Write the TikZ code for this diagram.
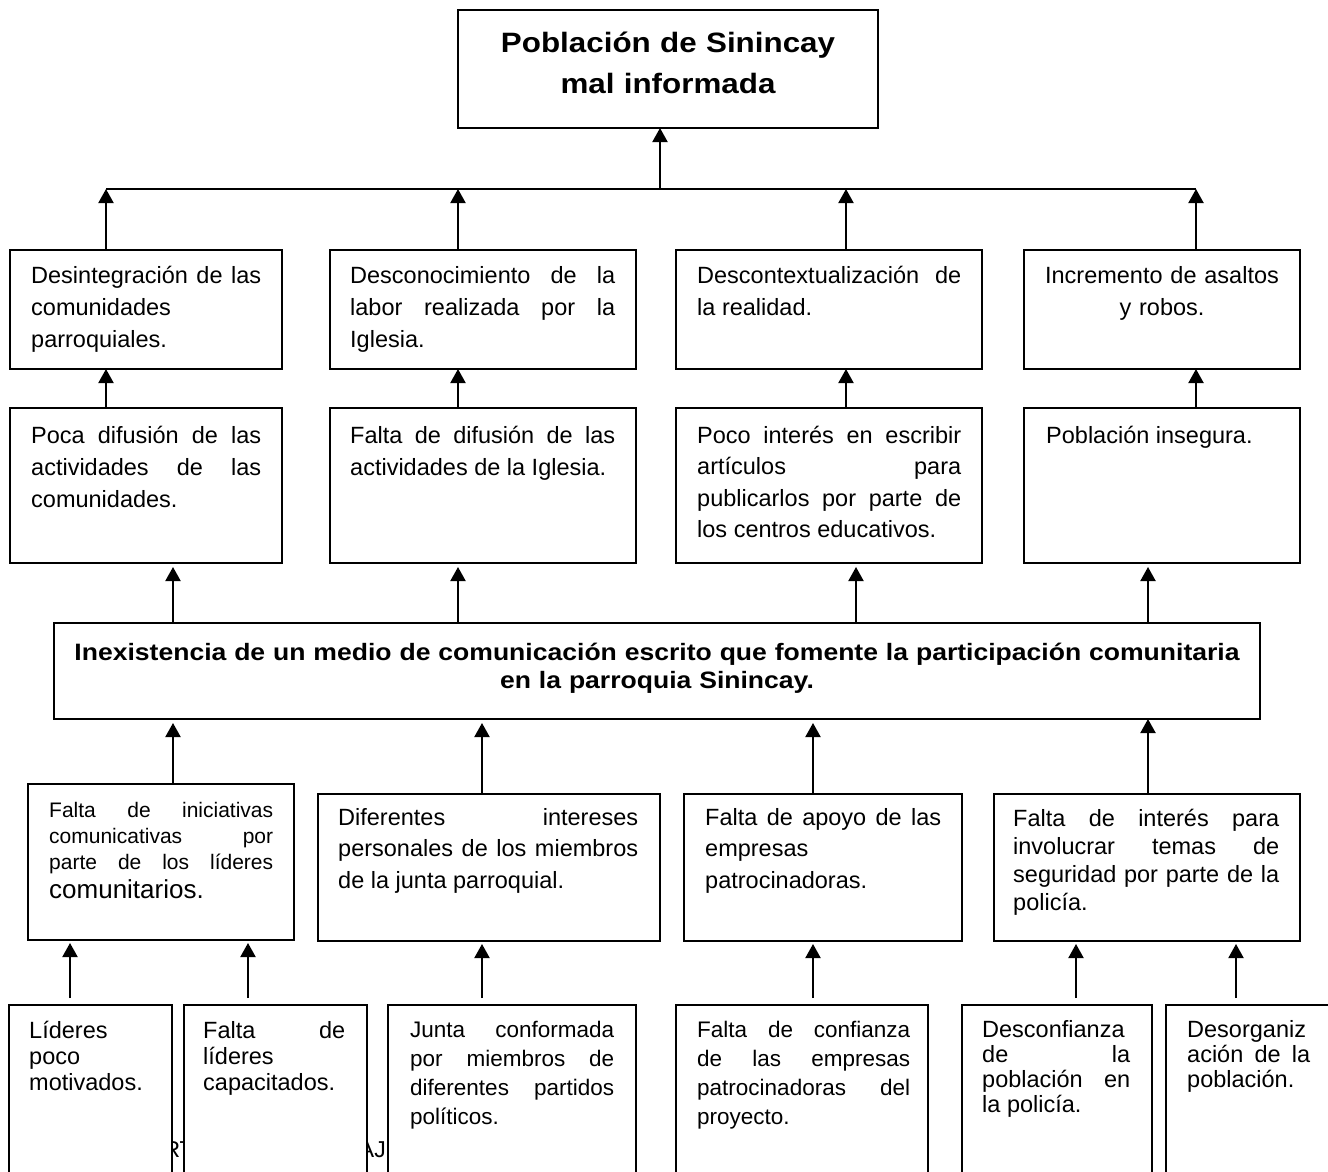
\documentclass[tikz,border=0pt]{standalone}
\usepackage{fontspec}
\setmainfont{Liberation Sans}
\newfontfamily\widesans[FakeStretch=1.12]{Liberation Sans}
\usetikzlibrary{arrows.meta}
\tolerance=10000
\hbadness=10000
\hyphenpenalty=10000
\exhyphenpenalty=10000
\tikzset{
  box/.style   = {draw, line width=2pt, fill=white, inner sep=0pt, outer sep=0pt},
  wire/.style  = {line width=2pt},
  arr/.style   = {line width=2pt, -{Triangle[length=14pt,width=15pt]}},
  gap/.style   = {shorten >=4pt},
  lift/.style  = {shorten <=7pt, shorten >=3pt},
  hd/.style    = {font=\widesans\bfseries\fontsize{28}{40}\selectfont, align=center,
                  anchor=base, inner sep=0pt},
  cause/.style = {font=\widesans\bfseries\fontsize{23.7}{28}\selectfont, align=center,
                  anchor=base, inner sep=0pt},
  lbl/.style   = {font=\fontsize{23.5}{32}\selectfont, align=justify, anchor=base west,
                  inner sep=0pt, text width=#1},
  lbl/.default = 230pt,
  ghost/.style = {font=\fontsize{23}{26}\selectfont, inner sep=0pt, anchor=base east},
}
% one framed cell: #1 name, #2 left, #3 top, #4 right, #5 bottom (pixels)
\newcommand{\frm}[5]{%
  \node[box, minimum width={(#4-#2)*1pt}, minimum height={(#5-#3)*1pt}]
    (#1) at ({(#2+#4)/2},{(#3+#5)/2}) {};}

\begin{document}
\begin{tikzpicture}[x=1pt, y=-1pt]
\useasboundingbox (0,0) rectangle (1328,1172);
\clip (0,0) rectangle (1328,1172);
\fill[white] (0,0) rectangle (1328,1172);

% x of the arrow columns
\foreach \nm/\xx in {k1/106,k2/458,k3/846,k4/1196,m1/173,m3/856,m4/1148,
                     n2/482,n3/813,a1/70,a2/248,a5/1076,a6/1236}
  {\coordinate (\nm) at (\xx,0);}

% ======================= the problem on top ==========================
\frm{top}{458}{10}{878}{128}
\node[hd, text width=410pt] (topt) at (668,53) {Población de Sinincay\\mal informada};

% ========================= effects, row 1 ============================
\frm{e1}{10}{250}{282}{369}
\frm{e2}{330}{250}{636}{369}
\frm{e3}{676}{250}{982}{369}
\frm{e4}{1024}{250}{1300}{369}
\node[lbl=230pt] (e1t) at (31,283)
  {Desintegración de las\linebreak comunidades\linebreak parroquiales.};
\node[lbl=265pt] (e2t) at (350,283)
  {Desconocimiento de la\linebreak labor realizada por la\linebreak Iglesia.};
\node[lbl=264pt] (e3t) at (697,283)
  {Descontextualización de\linebreak la realidad.};
\node[lbl=262pt, align=center, anchor=base] (e4t) at (1162,283)
  {Incremento de asaltos\\y robos.};

\coordinate (hub) at (660,189);
\draw[wire] (hub -| k1) -- (hub -| k4);
\draw[arr] (hub) -- (hub |- top.south);
\foreach \i in {1,...,4}
  {\draw[arr] (e\i.north -| k\i) -- (hub -| k\i);}

% ========================= effects, row 2 ============================
\frm{p1}{10}{408}{282}{563}
\frm{p2}{330}{408}{636}{563}
\frm{p3}{676}{408}{982}{563}
\frm{p4}{1024}{408}{1300}{563}
\node[lbl=230pt] (p1t) at (31,443)
  {Poca difusión de las\linebreak actividades de las\linebreak comunidades.};
\node[lbl=265pt] (p2t) at (350,443)
  {Falta de difusión de las\linebreak actividades de la Iglesia.};
\node[lbl=264pt, font=\fontsize{23.5}{31.5}\selectfont] (p3t) at (697,443)
  {Poco interés en escribir\linebreak artículos para\linebreak publicarlos por parte de\linebreak
   los centros educativos.};
\node[lbl=234pt] (p4t) at (1046,443) {Población insegura.};
\foreach \i in {1,...,4}
  {\draw[arr] (p\i.north -| k\i) -- (e\i.south -| k\i);}

% ========================== core problem =============================
\frm{core}{54}{623}{1260}{719}
\node[cause, text width=1190pt] (coret) at (657,660)
  {Inexistencia de un medio de comunicación escrito que fomente la participación comunitaria\\
   en la parroquia Sinincay.};
\draw[arr, gap] (core.north -| m1) -- (p1.south -| m1);
\draw[arr, gap] (core.north -| k2) -- (p2.south -| k2);
\draw[arr, gap] (core.north -| m3) -- (p3.south -| m3);
\draw[arr, gap] (core.north -| m4) -- (p4.south -| m4);

% ========================== causes, row 1 ============================
\frm{c1}{28}{784}{294}{940}
\frm{c2}{318}{794}{660}{941}
\frm{c3}{684}{794}{962}{941}
\frm{c4}{994}{794}{1300}{941}
\node[lbl=224pt, font=\fontsize{21}{26}\selectfont] (c1t) at (49,817)
  {Falta de iniciativas\linebreak comunicativas por\linebreak parte de los líderes\linebreak
   {\fontsize{26}{27}\selectfont\rule{0pt}{24pt}comunitarios.}};
\node[lbl=300pt, font=\fontsize{23.5}{31.5}\selectfont] (c2t) at (338,825)
  {Diferentes intereses\linebreak personales de los miembros\linebreak de la junta parroquial.};
\node[lbl=236pt, font=\fontsize{23.5}{31.5}\selectfont] (c3t) at (705,825)
  {Falta de apoyo de las\linebreak empresas\linebreak patrocinadoras.};
\node[lbl=266pt, font=\fontsize{23.5}{28}\selectfont] (c4t) at (1013,826)
  {Falta de interés para\linebreak involucrar temas de\linebreak seguridad por parte de la\linebreak
   policía.};
\draw[arr, gap] (c1.north -| m1) -- (core.south -| m1);
\draw[arr, gap] (c2.north -| n2) -- (core.south -| n2);
\draw[arr, gap] (c3.north -| n3) -- (core.south -| n3);
\draw[arr] (c4.north -| m4) -- (core.south -| m4);

% ========================== causes, row 2 ============================
% text left over underneath, seen only between the frames
\node[ghost] (gh1) at (194,1157) {RT};
\node[ghost] (gh2) at (386,1157) {AJ};

\frm{r1}{9}{1005}{172}{1200}
\frm{r2}{184}{1005}{367}{1200}
\frm{r3}{388}{1005}{636}{1200}
\frm{r4}{676}{1005}{928}{1200}
\frm{r5}{962}{1005}{1152}{1200}
\frm{r6}{1166}{1005}{1345}{1200}
\node[lbl=130pt, font=\fontsize{23.5}{26}\selectfont] (r1t) at (29,1038)
  {Líderes\linebreak poco\linebreak motivados.};
\node[lbl=142pt, font=\fontsize{23.5}{26}\selectfont] (r2t) at (203,1038)
  {Falta de\linebreak líderes\linebreak capacitados.};
\node[lbl=204pt, font=\fontsize{22.5}{29}\selectfont] (r3t) at (410,1037)
  {Junta conformada\linebreak por miembros de\linebreak diferentes partidos\linebreak políticos.};
\node[lbl=213pt, font=\fontsize{22.5}{29}\selectfont] (r4t) at (697,1037)
  {Falta de confianza\linebreak de las empresas\linebreak patrocinadoras del\linebreak proyecto.};
\node[lbl=148pt, font=\fontsize{23.5}{25}\selectfont] (r5t) at (982,1037)
  {Desconfianza\linebreak de la\linebreak población en\linebreak la policía.};
\node[lbl=123pt, font=\fontsize{23.5}{25}\selectfont] (r6t) at (1187,1037)
  {Desorganiz\linebreak ación de la\linebreak población.};

\draw[arr, lift] (r1.north -| a1) -- (c1.south -| a1);
\draw[arr, lift] (r2.north -| a2) -- (c1.south -| a2);
\draw[arr, lift] (r3.north -| n2) -- (c2.south -| n2);
\draw[arr, lift] (r4.north -| n3) -- (c3.south -| n3);
\draw[arr, lift] (r5.north -| a5) -- (c4.south -| a5);
\draw[arr, lift] (r6.north -| a6) -- (c4.south -| a6);

\end{tikzpicture}
\end{document}
